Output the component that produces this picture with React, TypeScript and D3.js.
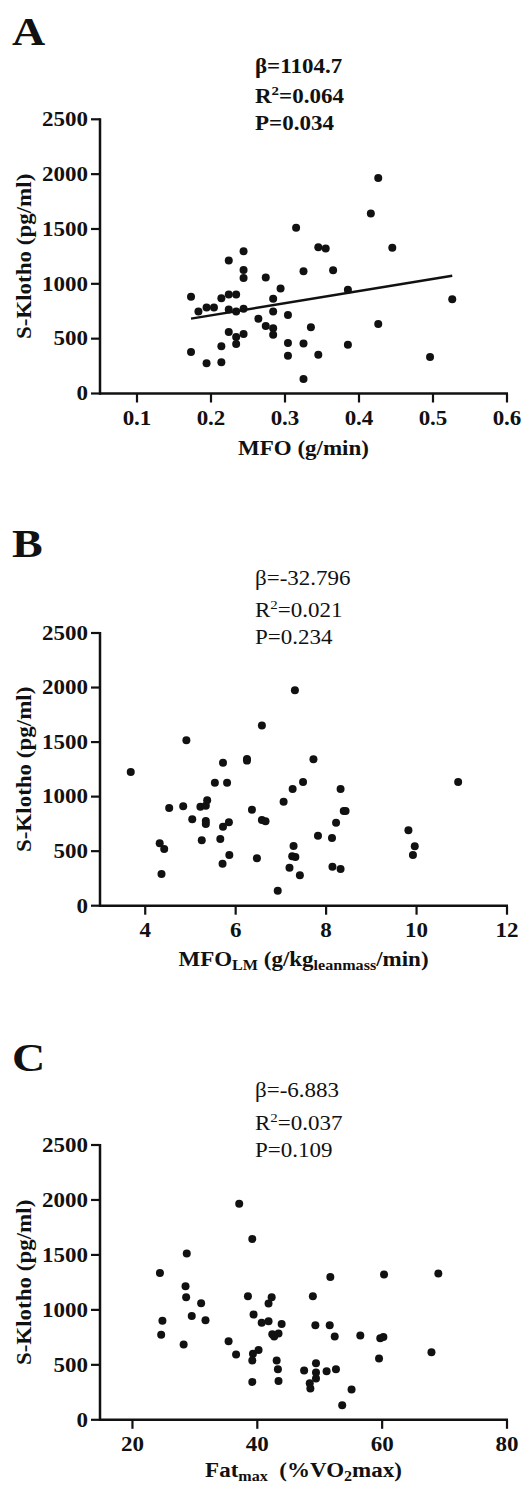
import React from "react";
import * as d3 from "d3";

const FONT = '"Liberation Serif","Times New Roman",Times,serif';
const SX = 1.15;

// ---------- data ----------
const yTicks = [0, 500, 1000, 1500, 2000, 2500];

const aX = [0.173,0.183,0.194,0.204,0.173,0.194,0.214,0.224,0.234,0.224,0.244,0.244,0.244,0.224,0.234,0.244,0.224,0.234,0.234,0.244,0.214,0.214,0.264,0.274,0.274,0.284,0.284,0.284,0.284,0.294,0.304,0.304,0.304,0.315,0.325,0.325,0.325,0.335,0.345,0.355,0.345,0.365,0.385,0.385,0.416,0.426,0.426,0.445,0.496,0.526];
const aY = [882,748,785,785,378,275,869,903,903,1212,1297,1127,1054,766,748,772,560,515,451,542,430,285,682,1057,615,864,748,596,536,957,715,460,345,1512,1115,457,133,603,1333,1321,354,1124,945,445,1642,1964,633,1330,333,860];
const aXTicks = [0.1, 0.2, 0.3, 0.4, 0.5, 0.6];
const aSlope = 1104.7;
const aIntercept = 492;
const aStats = ["β=1104.7", "0.064", "P=0.034"];

const bX = [3.68,4.32,4.42,4.36,4.53,4.84,4.91,5.04,5.22,5.34,5.37,5.34,5.34,5.25,5.54,5.72,5.81,5.72,5.85,5.66,5.86,5.71,6.25,6.25,6.36,6.47,6.58,6.58,6.66,6.93,7.06,7.19,7.26,7.28,7.25,7.32,7.31,7.42,7.49,7.72,7.82,8.13,8.14,8.32,8.22,8.39,8.43,8.32,9.82,9.96,9.92,10.92];
const bY = [1226,572,520,291,896,911,1517,792,908,917,966,777,749,600,1128,1311,1128,724,765,612,465,385,1345,1330,880,435,1651,786,774,138,954,348,1070,547,453,447,1975,279,1134,1342,642,621,358,1070,761,868,868,337,691,545,465,1134];
const bXTicks = [4, 6, 8, 10, 12];
const bStats = ["β=-32.796", "0.021", "P=0.234"];

const cX = [24.4,24.8,24.6,28.7,28.5,28.6,28.2,29.5,31.0,31.7,35.4,36.6,37.1,38.5,39.2,39.4,39.3,39.2,40.2,39.2,40.7,41.8,41.8,42.3,42.4,42.7,43.4,43.9,43.1,43.3,43.4,47.5,48.9,49.3,49.4,49.4,49.4,48.4,48.5,51.1,51.7,51.6,52.4,52.6,53.6,55.1,56.5,59.5,59.7,60.2,60.3,67.9,69.0];
const cY = [1336,900,773,1512,1215,1115,684,945,1060,905,715,594,1966,1124,1645,957,600,539,636,345,884,896,1057,1115,778,757,784,872,539,460,354,448,1124,860,515,430,375,333,285,442,1300,860,757,460,133,275,766,557,742,754,1321,615,1330];
const cXTicks = [20, 40, 60, 80];
const cStats = ["β=-6.883", "0.037", "P=0.109"];

// ---------- helpers ----------
function T({ x, y, anchor = "start", rotate = 0, size = 20, weight = "bold", children }: any) {
  return (
    <text
      transform={`translate(${x},${y}) rotate(${rotate}) scale(${SX},1)`}
      textAnchor={anchor}
      fontSize={size}
      fontWeight={weight}
      fontFamily={FONT}
      fill="#111"
      style={{ whiteSpace: "pre" }}
    >
      {children}
    </text>
  );
}

function Panel({ letter, letterY, xs, ys, xDomain, xTicks, xFmt, yBottom, yTop, stats, statsY, statsBold, xTitle, xTitleDy, line }: any) {
  const left = 100, right = 507;
  const x = d3.scaleLinear().domain(xDomain).range([left, right]);
  const y = d3.scaleLinear().domain([0, 2500]).range([yBottom, yTop]);
  const pts = xs.map((v: number, i: number) => [v, ys[i]]);
  let lineEl = null;
  if (line) {
    const ext = d3.extent(xs) as [number, number];
    const gen = d3.line<number>().x((d) => x(d)).y((d) => y(line.intercept + line.slope * d));
    lineEl = <path d={gen(ext) || ""} stroke="#111" strokeWidth={2.4} fill="none" />;
  }
  const sw = statsBold ? "bold" : "normal";
  return (
    <g>
      <T x={12} y={letterY} size={40} weight="bold">{letter}</T>
      {/* stats */}
      <T x={255} y={statsY[0]} weight={sw}>{stats[0]}</T>
      <T x={255} y={statsY[1]} weight={sw}>
        R<tspan fontSize={13} dy={-8}>2</tspan>
        <tspan dy={8}>={stats[1]}</tspan>
      </T>
      <T x={255} y={statsY[2]} weight={sw}>{stats[2]}</T>
      {/* y axis */}
      <line x1={left} x2={left} y1={y(2500) - 1} y2={yBottom + 1.2} stroke="#111" strokeWidth={2.5} />
      {yTicks.map((t) => (
        <g key={t}>
          <line x1={left - 9} x2={left} y1={y(t)} y2={y(t)} stroke="#111" strokeWidth={2.2} />
          <T x={88} y={y(t) + 6.8} anchor="end">{String(t)}</T>
        </g>
      ))}
      <T x={31} y={(yBottom + yTop) / 2} anchor="middle" rotate={-90}>S-Klotho (pg/ml)</T>
      {/* x axis */}
      <line x1={left} x2={right + 1} y1={yBottom} y2={yBottom} stroke="#111" strokeWidth={2.5} />
      {xTicks.map((t: number) => (
        <g key={t}>
          <line x1={x(t)} x2={x(t)} y1={yBottom} y2={yBottom + 9} stroke="#111" strokeWidth={2.2} />
          <T x={x(t)} y={yBottom + 31.5} anchor="middle">{xFmt(t)}</T>
        </g>
      ))}
      <T x={(left + right) / 2} y={yBottom + xTitleDy} anchor="middle">{xTitle}</T>
      {/* points */}
      {pts.map((p: number[], i: number) => (
        <circle key={i} cx={x(p[0])} cy={y(p[1])} r={4} fill="#111" />
      ))}
      {lineEl}
    </g>
  );
}

export default function App() {
  return (
    <svg
      width={529}
      height={1486}
      viewBox="0 0 529 1486"
      style={{ position: "absolute", left: 0, top: 0, display: "block", background: "#fff" }}
    >
      <rect width={529} height={1486} fill="#fff" />
      <Panel
        letter="A" letterY={45}
        xs={aX} ys={aY} xDomain={[0.05, 0.6]} xTicks={aXTicks} xFmt={(t: number) => t.toFixed(1)}
        yBottom={393.5} yTop={119.3}
        stats={aStats} statsY={[73, 102.5, 129.5]} statsBold={true}
        xTitle="MFO (g/min)" xTitleDy={61.5}
        line={{ slope: aSlope, intercept: aIntercept }}
      />
      <Panel
        letter="B" letterY={557}
        xs={bX} ys={bY} xDomain={[3, 12]} xTicks={bXTicks} xFmt={(t: number) => String(t)}
        yBottom={905.7} yTop={633}
        stats={bStats} statsY={[585, 616.5, 644]} statsBold={false}
        xTitle={
          <>
            MFO<tspan fontSize={14} dy={4}>LM</tspan>
            <tspan dy={-4}> (g/kg</tspan>
            <tspan fontSize={14} dy={4}>leanmass</tspan>
            <tspan dy={-4}>/min)</tspan>
          </>
        }
        xTitleDy={60}
      />
      <Panel
        letter="C" letterY={1071}
        xs={cX} ys={cY} xDomain={[14.8, 80]} xTicks={cXTicks} xFmt={(t: number) => String(t)}
        yBottom={1419.8} yTop={1145}
        stats={cStats} statsY={[1097, 1129.5, 1157]} statsBold={false}
        xTitle={
          <>
            Fat<tspan fontSize={14} dy={4}>max</tspan>
            <tspan dy={-4}>{"  (%VO"}</tspan>
            <tspan fontSize={14} dy={4}>2</tspan>
            <tspan dy={-4}>max)</tspan>
          </>
        }
        xTitleDy={57.5}
      />
    </svg>
  );
}
